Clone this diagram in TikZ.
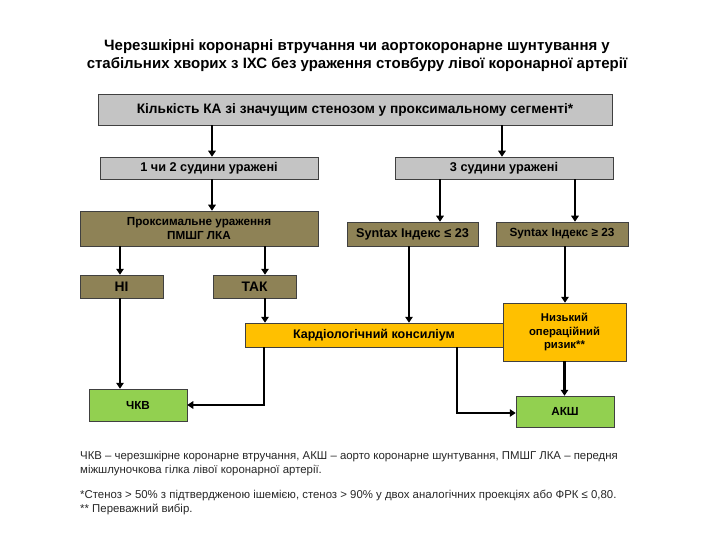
\documentclass[tikz,border=0pt]{standalone}
\usepackage{fontspec}
\setmainfont{Liberation Sans}
\usetikzlibrary{arrows.meta,calc}
\definecolor{boxgrey}{HTML}{C4C4C4}
\definecolor{olive}{HTML}{8E8256}
\definecolor{orng}{HTML}{FFC000}
\definecolor{grn}{HTML}{92D050}
\tikzset{
  box/.style={draw=black!75, line width=0.5pt, inner sep=1pt, align=center, font=\fontsize{12.7}{14}\selectfont\bfseries, text=black},
  greybox/.style={box, fill=boxgrey},
  olivebox/.style={box, fill=olive},
  orangebox/.style={box, fill=orng},
  greenbox/.style={box, fill=grn},
  arr/.style={line width=2.6pt, -{Triangle[length=6pt,width=7.5pt]}},
  note/.style={anchor=west, inner sep=0pt, font=\fontsize{11.4}{13}\selectfont, text=black!85}
}
\begin{document}
\begin{tikzpicture}[x=1pt,y=-1pt]
\useasboundingbox (0,0) rectangle (720,540);
% title
\node[font=\fontsize{15}{18}\selectfont\bfseries, align=center] (title) at (357,56)
  {Черезшкірні коронарні втручання чи аортокоронарне шунтування у\\стабільних хворих з ІХС без ураження стовбуру лівої коронарної артерії};
% boxes
\node[greybox, minimum width=514, minimum height=31, font=\fontsize{13.7}{15}\selectfont\bfseries] (top) at (355,109.5) {Кількість КА зі значущим стенозом у проксимальному сегменті*};
\node[greybox, minimum width=218, minimum height=22] (n12) at (209,168) {1 чи 2 судини уражені};
\node[greybox, minimum width=218, minimum height=22] (n3) at (504,168) {3 судини уражені};
\node[olivebox, minimum width=238, minimum height=35, font=\fontsize{11.7}{13.5}\selectfont\bfseries] (prox) at (199,228.5) {Проксимальне ураження\\ПМШГ ЛКА};
\node[olivebox, minimum width=131, minimum height=24] (syn1) at (412.5,234) {Syntax Індекс ≤ 23};
\node[olivebox, minimum width=132, minimum height=24, font=\fontsize{11.8}{13}\selectfont\bfseries] (syn2) at (562,234) {Syntax Індекс ≥ 23};
\node[olivebox, minimum width=83, minimum height=23, font=\fontsize{13.8}{15}\selectfont\bfseries] (ni) at (121.5,286.5) {НІ};
\node[olivebox, minimum width=83, minimum height=23, font=\fontsize{13.8}{15}\selectfont\bfseries] (tak) at (254.5,286.5) {ТАК};
\node[orangebox, minimum width=258, minimum height=24, font=\fontsize{12.5}{14}\selectfont\bfseries] (kons) at (374,335) {Кардіологічний консиліум};
\node[orangebox, minimum width=123, minimum height=58, font=\fontsize{11.3}{13.5}\selectfont\bfseries] (risk) at (564.5,332) {Низький\\операційний\\ризик**};
\node[greenbox, minimum width=98, minimum height=32, font=\fontsize{11.7}{13}\selectfont\bfseries] (pci) at (138,405) {ЧКВ};
\node[greenbox, minimum width=98, minimum height=31, font=\fontsize{11.7}{13}\selectfont\bfseries] (cabg) at (565,411.5) {АКШ};
% connectors
\draw[arr] ([xshift=3]n12.north |- top.south) -- ([xshift=3]n12.north);
\draw[arr] ([xshift=-2]n3.north |- top.south) -- ([xshift=-2]n3.north);
\draw[arr] ([xshift=3]n12.south) -- ([xshift=3]n12.south |- prox.north);
\draw[arr] ([xshift=-64]n3.south) -- ([xshift=-64]n3.south |- syn1.north);
\draw[arr] ([xshift=71]n3.south) -- ([xshift=71]n3.south |- syn2.north);
\draw[arr] ([xshift=-1.5]ni.north |- prox.south) -- ([xshift=-1.5]ni.north);
\draw[arr] ([xshift=10.5]tak.north |- prox.south) -- ([xshift=10.5]tak.north);
\draw[arr] ([xshift=10.5]tak.south) -- ([xshift=10.5]tak.south |- kons.north);
\draw[arr] ([xshift=-3.5]syn1.south) -- ([xshift=-3.5]syn1.south |- kons.north);
\draw[arr] ([xshift=3]syn2.south) -- ([xshift=3]syn2.south |- risk.north);
\draw[arr] ([xshift=-1.5]ni.south) -- ([xshift=-1.5]ni.south |- pci.north);
\coordinate (k1) at ([xshift=-110]kons.south);
\draw[arr] (k1) |- (pci.east);
\coordinate (k2) at ([xshift=83]kons.south);
\draw[arr] (k2) |- ([yshift=-1.5]cabg.west);
\draw[arr] (risk.south) -- (risk.south |- cabg.north);
% notes
\node[note] (f1) at (80,457) {ЧКВ – черезшкірне коронарне втручання, АКШ – аорто коронарне шунтування, ПМШГ ЛКА – передня};
\node[note] (f2) at (80,471) {міжшлуночкова гілка лівої коронарної артерії.};
\node[note] (f3) at (80,495) {*Стеноз > 50\% з підтвердженою ішемією, стеноз > 90\% у двох аналогічних проекціях або ФРК ≤ 0,80.};
\node[note] (f4) at (80,509) {** Переважний вибір.};
\end{tikzpicture}
\end{document}
